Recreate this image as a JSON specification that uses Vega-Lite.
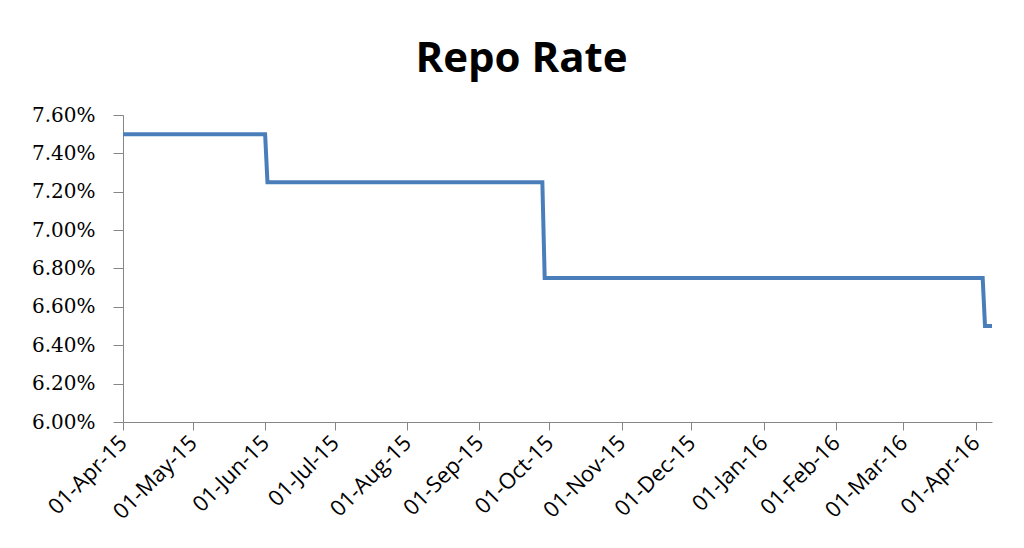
{
  "$schema": "https://vega.github.io/schema/vega-lite/v6.json",
  "autosize": "none",
  "width": 869,
  "height": 307,
  "padding": {"left": 123, "top": 115, "right": 32, "bottom": 126},
  "background": "white",
  "title": {
    "text": "Repo Rate",
    "font": "Open Sans",
    "fontSize": 42,
    "fontWeight": "bold",
    "color": "#000000",
    "anchor": "middle",
    "dx": -36,
    "offset": 24
  },
  "data": {
    "values": [
      {"date": "2015-04-01T00:00:00", "rate": 0.075},
      {"date": "2015-06-01T00:00:00", "rate": 0.075},
      {"date": "2015-06-02T00:00:00", "rate": 0.0725},
      {"date": "2015-09-28T00:00:00", "rate": 0.0725},
      {"date": "2015-09-29T00:00:00", "rate": 0.0675},
      {"date": "2016-04-04T00:00:00", "rate": 0.0675},
      {"date": "2016-04-05T00:00:00", "rate": 0.065},
      {"date": "2016-04-08T00:00:00", "rate": 0.065}
    ]
  },
  "mark": {"type": "line", "color": "#4A7EBB", "strokeWidth": 4, "strokeJoin": "miter"},
  "encoding": {
    "x": {
      "field": "date",
      "type": "temporal",
      "scale": {"domain": [{"year": 2015, "month": 4, "date": 1}, {"year": 2016, "month": 4, "date": 8}]},
      "axis": {
        "title": null,
        "format": "%d-%b-%y",
        "values": [
          {"year": 2015, "month": 4, "date": 1},
          {"year": 2015, "month": 5, "date": 1},
          {"year": 2015, "month": 6, "date": 1},
          {"year": 2015, "month": 7, "date": 1},
          {"year": 2015, "month": 8, "date": 1},
          {"year": 2015, "month": 9, "date": 1},
          {"year": 2015, "month": 10, "date": 1},
          {"year": 2015, "month": 11, "date": 1},
          {"year": 2015, "month": 12, "date": 1},
          {"year": 2016, "month": 1, "date": 1},
          {"year": 2016, "month": 2, "date": 1},
          {"year": 2016, "month": 3, "date": 1},
          {"year": 2016, "month": 4, "date": 1}
        ],
        "labelAngle": -45,
        "labelAlign": "right",
        "labelBaseline": "middle",
        "labelFont": "Open Sans",
        "labelFontSize": 22,
        "labelColor": "#000000",
        "labelPadding": 9,
        "tickSize": 8,
        "domainColor": "#868686",
        "tickColor": "#868686",
        "grid": false,
        "labelOverlap": false,
        "labelFlush": false
      }
    },
    "y": {
      "field": "rate",
      "type": "quantitative",
      "scale": {"domain": [0.06, 0.076], "nice": false, "zero": false},
      "axis": {
        "title": null,
        "format": ".2%",
        "values": [0.06, 0.062, 0.064, 0.066, 0.068, 0.07, 0.072, 0.074, 0.076],
        "labelFont": "DejaVu Serif",
        "labelFontSize": 20,
        "labelColor": "#000000",
        "labelPadding": 18,
        "tickSize": 10,
        "domainColor": "#868686",
        "tickColor": "#868686",
        "grid": false,
        "labelOverlap": false,
        "labelFlush": false
      }
    }
  },
  "config": {
    "view": {"stroke": null}
  }
}
